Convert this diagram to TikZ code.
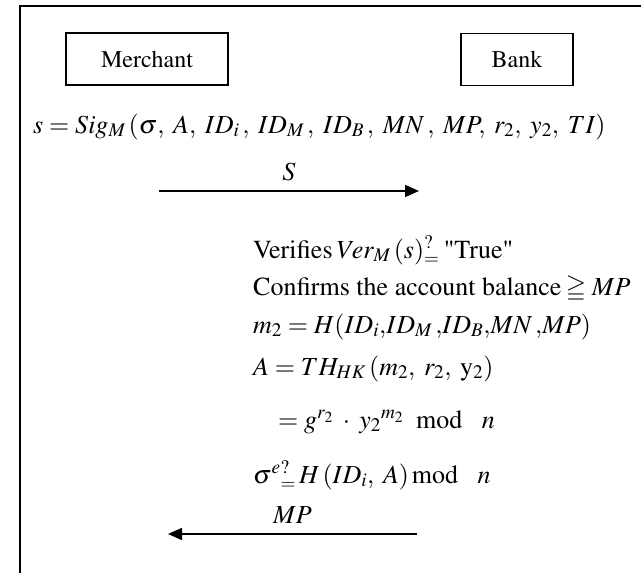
\documentclass[tikz,border=0pt]{standalone}
\usepackage[T1]{fontenc}
\usepackage{mathptmx}
\usepackage{amsmath,amssymb}
\usetikzlibrary{arrows.meta}
\tikzset{
	party/.style = {draw, line width=1.5pt, minimum height=52pt, font=\fontsize{24}{29}\selectfont},
	stmt/.style = {anchor=base west, inner sep=0pt, font=\fontsize{26}{31}\selectfont},
	lbl/.style = {inner sep=0pt, font=\fontsize{26}{31}\selectfont},
	msg/.style = {-{Triangle[length=14pt,width=12pt]}, line width=1.6pt}
}
\newcommand{\qeq}{{}^{?}_{=}}
\newcommand{\cm}{,\;}

\begin{document}
\begin{tikzpicture}[x=1pt,y=-1pt]
					\useasboundingbox (0,0) rectangle (641,573);
					\draw[line width=1.5pt] (20,6) rectangle (680,620);
					% ====== Parties ========
					\node[party, minimum width=162pt] (merchant) at (147,59) {Merchant};
					\node[party, minimum width=112pt] (bank) at (517,59.5) {Bank};
					% ====== Merchant side ========
					\node[stmt] (sig) at (33,133) {$s = Sig_{M}\,(\sigma\cm A\cm ID_{i}\,\cm ID_{M}\,\cm ID_{B}\,\cm MN\,\cm MP\cm r_{2}\cm y_{2}\cm TI)$};
					\coordinate (s1) at (159,191);
					\coordinate (s2) at (419,191);
					\draw[msg] (s1) -- (s2) node[lbl, midway, above=9pt] (lblS) {$S$};
					% ====== Bank side ========
					\node[stmt] (verify) at (253,258) {Verifies\,$Ver_{M}\,(s)\qeq$\,\textquotedbl True\textquotedbl};
					\node[stmt] (balance) at (253,295) {Confirms the account balance\,$\geqq MP$};
					\node[stmt] (hash) at (253,333) {$m_{2} = H(ID_{i}{,}ID_{M}\,{,}ID_{B}{,}MN\,{,}MP)$};
					\node[stmt] (commit) at (253,375) {$A = TH_{HK}\,(m_{2}\cm r_{2}\cm \mathrm{y}_{2})$};
					\node[stmt] (expand) at (278,428) {$= g^{r_{2}}\;\cdot\;{y_{2}}^{m_{2}}\;\ \mathrm{mod}\ \ \ n$};
					\node[stmt] (check) at (253,483) {$\sigma^{e}\qeq\,H\,(ID_{i}\cm A)\,\mathrm{mod}\ \ \ n$};
					\coordinate (p1) at (417,534);
					\coordinate (p2) at (168,534);
					\draw[msg] (p1) -- (p2) node[lbl, midway, above=9.5pt] (lblMP) {$MP$};
				\end{tikzpicture}
\end{document}
